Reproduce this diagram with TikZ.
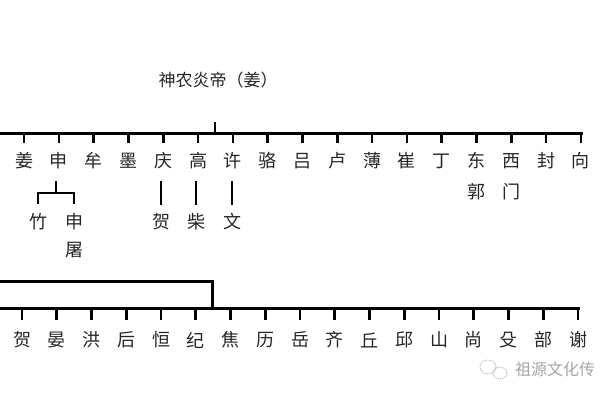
\documentclass[tikz,border=0pt]{standalone}
\usepackage{fontspec}
\newfontfamily\cjk{Noto Sans CJK SC}
\begin{document}
\begin{tikzpicture}[x=1pt,y=-1pt]
\tikzset{
  nm/.style={font=\cjk\fontsize{18}{19}\selectfont, text=black!85, inner sep=0pt},
  ttl/.style={font=\cjk\fontsize{17}{18}\selectfont, text=black!85, inner sep=0pt},
  bar/.style={line width=3pt, line cap=rect},
  tk/.style={line width=2.6pt},
  wm/.style={font=\cjk\fontsize{16}{17}\selectfont, text=black!35, inner sep=0pt}
}
\useasboundingbox (0,0) rectangle (600,400);
\fill[white] (0,0) rectangle (600,400);
% title
\node[ttl] (root) at (218,80) {神农炎帝（姜）};
\coordinate (rtop) at (215,122);
\coordinate (rbar) at (215,133);
\draw[tk] (rtop) -- (rbar);
% top bar
\coordinate (tl) at (-2,133);
\coordinate (tr) at (581,133);
\draw[bar] (tl) -- (tr);
\foreach \c [count=\i from 0] in {姜,申,牟,墨,庆,高,许,骆,吕,卢,薄,崔,丁,东,西,封,向}{
  \pgfmathsetmacro{\xx}{24+34.8*\i}
  \node[nm] (a\i) at (\xx,161) {\c};
  \coordinate (ta\i) at (\xx,133);
  \draw[tk] (ta\i) -- (\xx,143);
}
\node[nm] (a13b) at (a13 |- 0,192) {郭};
\node[nm] (a14b) at (a14 |- 0,192) {门};
% 申 branch
\coordinate (s0) at (56,181);
\coordinate (s1) at (56,193);
\coordinate (sl) at (38,193);
\coordinate (sr) at (74,193);
\node[nm] (zhu) at (38,222) {竹};
\node[nm] (shen2) at (74,222) {申};
\node[nm] (tu) at (74,250) {屠};
\draw[tk] (s0) -- (s1);
\draw[tk] (38,204) -- (sl) -- (sr) -- (74,204);
% single children
\node[nm] (he1) at (161,222) {贺};
\node[nm] (chai) at (196,222) {柴};
\node[nm] (wen) at (232,222) {文};
\draw[tk] (he1 |- 0,181) -- (he1 |- 0,205);
\draw[tk] (chai |- 0,181) -- (chai |- 0,205);
\draw[tk] (wen |- 0,181) -- (wen |- 0,205);
% bottom group
\coordinate (bl) at (-2,281);
\coordinate (bc) at (212,281);
\coordinate (bd) at (212,308);
\draw[bar] (bl) -- (bc) -- (bd);
\coordinate (bbl) at (-2,308);
\coordinate (bbr) at (578,308);
\draw[bar] (bbl) -- (bbr);
\foreach \c [count=\i from 0] in {贺,晏,洪,后,恒,纪,焦,历,岳,齐,丘,邱,山,尚,殳,部,谢}{
  \pgfmathsetmacro{\xx}{22+34.75*\i}
  \node[nm] (b\i) at (\xx,340) {\c};
  \coordinate (tb\i) at (\xx,308);
  \draw[tk] (tb\i) -- (\xx,320);
}
% watermark
\draw[black!30, densely dotted, line width=0.9pt] (488,367) ellipse (8pt and 7pt);
\draw[black!30, densely dotted, line width=0.9pt] (500,373) ellipse (7pt and 6pt);
\node[wm, anchor=west] (wmk) at (515,369) {祖源文化传};
\end{tikzpicture}
\end{document}
